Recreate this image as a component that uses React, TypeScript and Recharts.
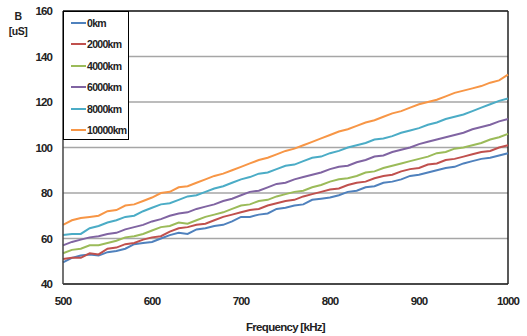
import React from "react";
import {
  LineChart,
  Line,
  XAxis,
  YAxis,
  CartesianGrid,
  ReferenceLine,
  Legend,
  Label
} from "recharts";

const frequencies = [
  500, 510, 520, 530, 540, 550, 560, 570, 580, 590, 600, 610, 620, 630, 640, 650, 660,
  670, 680, 690, 700, 710, 720, 730, 740, 750, 760, 770, 780, 790, 800, 810, 820, 830,
  840, 850, 860, 870, 880, 890, 900, 910, 920, 930, 940, 950, 960, 970, 980, 990, 1000
];

const km0 = [
  49.5, 51.5, 52.5, 53, 52.5, 54, 54.5, 55.5, 57.5, 58, 58.5, 60, 61.5, 62.5, 62, 64, 64.5,
  65.5, 66, 67.5, 69.5, 69.5, 70.5, 71, 73, 73.5, 74.5, 75, 77, 77.5, 78, 79, 80.5, 81,
  82.5, 83, 84.5, 85, 86, 87.5, 88, 89, 90, 91, 91.5, 93, 94, 95, 95.5, 96.5, 97.5
];
const km2000 = [
  51, 51.5, 51.5, 53.5, 53, 55.5, 56, 57.5, 58, 59.5, 60.5, 61, 63, 64.5, 65, 66, 66.5,
  68, 69.5, 70.5, 71.5, 72.5, 73, 74.5, 75.5, 76.5, 77, 78.5, 79.5, 80.5, 81.5, 82, 83.5,
  84.5, 85, 86.5, 87.5, 88, 89.5, 90.5, 91, 92.5, 93, 94.5, 95, 96, 97, 98, 98.5, 100, 101
];
const km4000 = [
  53.5, 55, 55.5, 57, 57, 58, 59, 60.5, 61, 62, 63.5, 65, 65.5, 67, 66.5, 68, 69.5, 70.5,
  71.5, 73, 74.5, 75, 76.5, 77, 78.5, 79.5, 80.5, 81, 82.5, 83.5, 85, 86, 86.5, 87.5, 89,
  89.5, 91, 92, 93, 94, 95, 96, 97.5, 98, 99.5, 100, 101, 102, 103.5, 104.5, 106
];
const km6000 = [
  57, 58.5, 59.5, 60.5, 61, 62, 62.5, 64, 65, 66, 67.5, 68.5, 70, 71, 71.5, 73, 74, 75,
  76.5, 77.5, 79, 80.5, 81, 82.5, 84, 84.5, 86, 87, 88, 89, 90.5, 91.5, 92, 93.5, 94.5,
  96, 96.5, 98, 99, 100, 101.5, 102.5, 103.5, 104.5, 105.5, 106.5, 108, 109, 110, 111.5, 112.5
];
const km8000 = [
  61.5, 62, 62, 64.5, 65.5, 67, 68, 69.5, 70, 72, 73.5, 75, 75.5, 77, 78.5, 79, 80.5, 82,
  83, 84.5, 86, 87, 88.5, 89, 90.5, 92, 92.5, 94, 95.5, 96, 97.5, 98.5, 100, 101, 102,
  103.5, 104, 105, 106.5, 107.5, 108.5, 110, 111, 112.5, 113.5, 114.5, 116, 117.5, 119, 120.5, 121.5
];
const km10000 = [
  66, 68, 69, 69.5, 70, 72, 72.5, 74.5, 75, 76.5, 78, 80, 80.5, 82.5, 83, 84.5, 86, 87.5,
  88.5, 90, 91.5, 93, 94.5, 95.5, 97, 98.5, 99.5, 101, 102.5, 104, 105.5, 107, 108, 109.5,
  111, 112, 113.5, 115, 116, 117.5, 119, 120, 121, 122.5, 124, 125, 126, 127, 128.5, 129.5, 132
];

const seriesNames = ["0km", "2000km", "4000km", "6000km", "8000km", "10000km"];
const seriesValues = [km0, km2000, km4000, km6000, km8000, km10000];
const colors = ["#4F81BD", "#C0504D", "#9BBB59", "#8064A2", "#4BACC6", "#F79646"];

const xTicks = [500, 600, 700, 800, 900, 1000];
const yTicks = [40, 60, 80, 100, 120, 140, 160];

const data = frequencies.map((f, i) => {
  const row: Record<string, number> = { freq: f };
  seriesNames.forEach((name, s) => {
    row[name] = seriesValues[s][i];
  });
  return row;
});

const FONT = "'Liberation Sans', Arial, sans-serif";

const tickStyle = {
  fontFamily: FONT,
  fontSize: 11.5,
  fontWeight: 700,
  fill: "#222",
  letterSpacing: -0.9
};

function LegendBox() {
  return (
    <div
      style={{
        width: 66,
        height: 129,
        border: "1px solid #000",
        background: "#fff",
        boxSizing: "border-box"
      }}
    >
      {seriesNames.map((name, i) => (
        <div
          key={name}
          style={{ display: "flex", alignItems: "center", height: 21.5 }}
        >
          <div
            style={{
              width: 15,
              height: 2,
              background: colors[i],
              marginLeft: 7,
              marginRight: 1
            }}
          />
          <span
            style={{
              fontFamily: FONT,
              fontSize: 10.5,
              fontWeight: 700,
              color: "#222",
              letterSpacing: -0.7
            }}
          >
            {name}
          </span>
        </div>
      ))}
    </div>
  );
}

export default function App() {
  return (
    <div style={{ position: "absolute", left: 0, top: 0, width: 527, height: 336, background: "#fff" }}>
      <div
        style={{
          position: "absolute",
          left: 6,
          top: 9,
          width: 24,
          textAlign: "center",
          fontFamily: FONT,
          fontSize: 10.5,
          fontWeight: 700,
          color: "#222",
          lineHeight: "15px",
          letterSpacing: -0.5
        }}
      >
        B<br />[uS]
      </div>
      <LineChart
        width={527}
        height={336}
        data={data}
        margin={{ top: 11, right: 19, bottom: 0, left: 0 }}
      >
        <CartesianGrid vertical={false} stroke="#a6a6a6" strokeWidth={1.5} />
        <XAxis
          dataKey="freq"
          type="number"
          domain={[500, 1000]}
          ticks={xTicks}
          height={52}
          tickLine={false}
          tickSize={0}
          tickMargin={13}
          axisLine={{ stroke: "#222", strokeWidth: 1.5 }}
          tick={tickStyle}
        >
          <Label
            value="Frequency [kHz]"
            position="insideBottom"
            offset={5}
            style={{
              fontFamily: FONT,
              fontSize: 11.5,
              fontWeight: 700,
              fill: "#222",
              letterSpacing: -0.7
            }}
          />
        </XAxis>
        <YAxis
          type="number"
          domain={[40, 160]}
          ticks={yTicks}
          width={63}
          tickLine={false}
          tickSize={0}
          tickMargin={11}
          axisLine={{ stroke: "#444", strokeWidth: 1.5 }}
          tick={tickStyle}
        />
        <ReferenceLine y={160} stroke="#222" strokeWidth={1.5} />
        <ReferenceLine x={1000} stroke="#222" strokeWidth={1.5} />
        {seriesNames.map((name, i) => (
          <Line
            key={name}
            dataKey={name}
            type="linear"
            stroke={colors[i]}
            strokeWidth={2}
            dot={false}
            isAnimationActive={false}
          />
        ))}
        <Legend
          layout="horizontal"
          verticalAlign="middle"
          align="center"
          wrapperStyle={{ left: 63, top: 11, width: 66, height: 129 }}
          content={() => <LegendBox />}
        />
      </LineChart>
    </div>
  );
}
